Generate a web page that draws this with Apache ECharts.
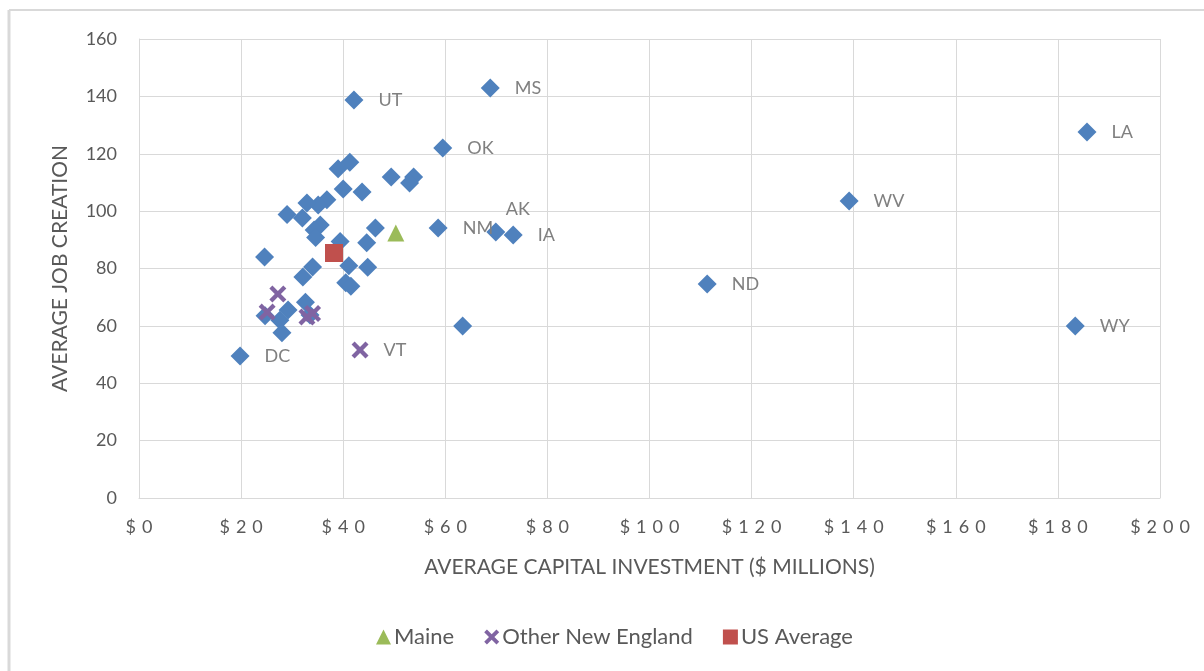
<!DOCTYPE html>
<html>
<head>
<meta charset="utf-8">
<title>Capital investment vs job creation</title>
<script src="https://cdn.jsdelivr.net/npm/echarts@6/dist/echarts.min.js"></script>
<style>
  html, body { margin: 0; padding: 0; background: #fff; }
  #chart { width: 1204px; height: 671px; }
</style>
</head>
<body>
<div id="chart"></div>
<script>
// states outside New England (plus DC); blank name = no label
const stateNames = ['UT', 'MS', 'OK', 'LA', 'WV', 'NM', 'AK', 'IA', 'ND', 'WY', 'DC',
  '', '', '', '', '', '', '', '', '', '', '', '', '', '', '', '', '', '', '', '',
  '', '', '', '', '', '', '', '', '', '', '', '', '']
const stateInvest = [42.1, 68.8, 59.5, 185.7, 139.1, 58.6, 69.9, 73.3, 111.3, 183.4, 19.8,
  41.3, 39.0, 49.4, 53.8, 53.0, 40.0, 43.7, 36.8, 35.1, 32.9, 29.0, 32.0, 35.5, 34.3, 34.6,
  46.3, 44.6, 39.4, 24.6, 34.0, 41.1, 44.8, 32.1, 40.5, 41.5, 32.6, 29.2, 27.6, 24.7, 28.0,
  63.4, 33.5]
const stateJobs = [138.7, 142.9, 122.0, 127.6, 103.5, 94.1, 92.7, 91.7, 74.6, 60.0, 49.5,
  117.0, 114.8, 111.9, 111.9, 109.8, 107.7, 106.7, 104.0, 102.1, 102.8, 98.8, 97.6, 95.2, 93.4, 90.8,
  94.1, 89.0, 89.4, 84.0, 80.5, 81.0, 80.4, 77.0, 75.0, 73.8, 68.2, 65.5, 62.0, 63.5, 57.6,
  60.0, 63.8]

const maineInvest = [50.3]
const maineJobs = [92.4]

const otherNEInvest = [27.2, 25.1, 32.9, 34.0, 43.3]
const otherNEJobs = [71.1, 64.8, 63.1, 64.3, 51.6]
const otherNENames = ['', '', '', '', 'VT']

const usInvest = [38.2]
const usJobs = [85.4]

// excel spaces the currency labels out
const sp = '\u2004'
const xTicks = [0, 20, 40, 60, 80, 100, 120, 140, 160, 180, 200]
  .map(v => ['$'].concat(String(v).split('')).join(sp))

const gray = '#595959'
const gridColor = '#d9d9d9'
const font = 'Lato, "Open Sans", sans-serif'
const xMark = 'path://M0,1.8L1.8,0L5,3.2L8.2,0L10,1.8L6.8,5L10,8.2L8.2,10L5,6.8L1.8,10L0,8.2L3.2,5Z'

const pointLabel = {
  show: true,
  position: 'right',
  distance: 15,
  color: '#808080',
  fontSize: 18,
  fontFamily: font,
  formatter: p => p.data.name || ''
}

const stateData = stateInvest.map((x, i) => {
  const item = { value: [x, stateJobs[i]], name: stateNames[i] }
  if (stateNames[i] === 'AK') {
    item.label = { position: 'top', distance: 4, offset: [22, 0] }
  }
  return item
})

const chart = echarts.init(document.getElementById('chart'))

chart.setOption({
  animation: false,
  textStyle: { fontFamily: font },
  graphic: [
    { type: 'line', shape: { x1: 9, y1: 10, x2: 9, y2: 671 }, style: { stroke: gridColor, lineWidth: 3 } },
    { type: 'line', shape: { x1: 9, y1: 10, x2: 1204, y2: 10 }, style: { stroke: gridColor, lineWidth: 2 } }
  ],
  grid: { left: 139, right: 44, top: 39, bottom: 173 },
  legend: {
    data: ['Maine', 'Other New England', 'US Average'],
    left: 371,
    top: 621,
    itemWidth: 15,
    itemHeight: 15,
    itemGap: 30,
    textStyle: { color: gray, fontSize: 22, fontFamily: font, padding: [0, 0, 0, -2] }
  },
  xAxis: {
    type: 'value',
    min: 0,
    max: 200,
    interval: 20,
    name: 'AVERAGE CAPITAL INVESTMENT ($ MILLIONS)',
    nameLocation: 'middle',
    nameGap: 59,
    nameTextStyle: { color: gray, fontSize: 21, fontFamily: font },
    axisLine: { show: true, lineStyle: { color: gridColor } },
    axisTick: { show: false },
    axisLabel: {
      color: gray,
      fontSize: 18,
      margin: 20,
      formatter: v => xTicks[Math.round(v / 20)]
    },
    splitLine: { lineStyle: { color: gridColor, width: 1 } }
  },
  yAxis: {
    type: 'value',
    min: 0,
    max: 160,
    interval: 20,
    name: 'AVERAGE JOB CREATION',
    nameLocation: 'middle',
    nameGap: 68,
    nameTextStyle: { color: gray, fontSize: 21, fontFamily: font },
    axisLine: { show: true, lineStyle: { color: gridColor } },
    axisTick: { show: false },
    axisLabel: { color: gray, fontSize: 18, margin: 22 },
    splitLine: { lineStyle: { color: gridColor, width: 1 } }
  },
  series: [
    {
      name: 'States',
      type: 'scatter',
      symbol: 'diamond',
      symbolSize: 19,
      itemStyle: { color: '#4f81bd', opacity: 1 },
      label: pointLabel,
      data: stateData
    },
    {
      name: 'Maine',
      type: 'scatter',
      symbol: 'triangle',
      symbolSize: 17,
      itemStyle: { color: '#9bbb59', opacity: 1 },
      data: maineInvest.map((x, i) => [x, maineJobs[i]])
    },
    {
      name: 'Other New England',
      type: 'scatter',
      symbol: xMark,
      symbolSize: 17,
      itemStyle: { color: '#8064a2', opacity: 1 },
      label: pointLabel,
      data: otherNEInvest.map((x, i) => ({ value: [x, otherNEJobs[i]], name: otherNENames[i] }))
    },
    {
      name: 'US Average',
      type: 'scatter',
      symbol: 'rect',
      symbolSize: 18,
      itemStyle: { color: '#c0504d', opacity: 1 },
      data: usInvest.map((x, i) => [x, usJobs[i]])
    }
  ]
})
</script>
</body>
</html>
